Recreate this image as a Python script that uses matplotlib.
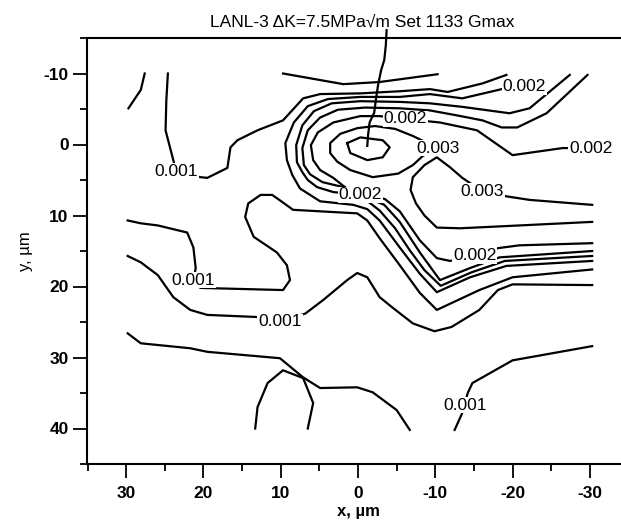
import matplotlib
matplotlib.use('Agg')
import matplotlib.pyplot as plt
from matplotlib.ticker import MultipleLocator

plt.rcParams['font.family'] = ['Liberation Sans', 'DejaVu Sans']
plt.rcParams['axes.unicode_minus'] = False

# contour lines, x and y in um
topleft_x = [29.7, 28.1, 27.6]
topleft_y = [-5.1, -7.7, -10.0]

c001a_x = [24.6, 24.8, 24.9, 23.9, 23.5, 20.4, 19.5, 16.9, 16.5, 15.6, 13.0, 9.7, 7.1, 4.9, -0.3, -5.4, -9.3, -11.6, -16.1, -19.2]
c001a_y = [-10.0, -6.2, -2.0, 2.2, 3.8, 4.6, 4.7, 3.3, 0.4, -0.6, -2.0, -3.4, -6.5, -7.1, -7.2, -7.5, -7.8, -7.4, -8.6, -9.8]

top_x = [9.7, 1.9, -2.8, -10.3]
top_y = [-10.0, -8.5, -8.8, -9.9]

band1_x = [-21.5, -18.6, -13.5, -9.3, -5.4, -0.3, 3.9, 6.5, 8.3, 9.4, 9.2, 8.5, 7.5, 4.9, 0.6, -1.2, -2.8, -5.4, -8.0, -10.2, -14.5, -19.2, -30.3]
band1_y = [-8.1, -7.8, -6.5, -7.1, -6.7, -6.7, -6.4, -5.4, -3.1, -0.2, 2.2, 4.3, 6.2, 8.0, 8.5, 9.1, 10.7, 14.5, 18.2, 20.8, 18.7, 17.1, 16.4]

band2_x = [-27.4, -22.2, -19.6, -13.5, -9.3, -5.4, -0.3, 3.4, 5.7, 7.2, 8.0, 7.9, 7.2, 6.5, 5.3, 3.2, -0.3, -3.4, -5.4, -8.0, -10.6, -14.5, -18.3, -30.3]
band2_y = [-9.8, -5.1, -4.4, -5.3, -5.8, -6.0, -6.1, -5.8, -4.7, -2.7, 0.1, 2.5, 3.9, 5.0, 6.0, 6.7, 7.1, 8.5, 10.9, 15.2, 19.1, 17.4, 15.9, 15.0]

band3_x = [-29.7, -24.4, -20.6, -18.6, -16.1, -12.8, -9.3, -5.4, -0.9, 2.6, 4.9, 6.5, 7.2, 7.0, 6.2, 4.6, 2.3, -0.5, -3.5, -5.4, -8.0, -10.2, -11.9, -15.1, -18.1, -20.9, -30.3]
band3_y = [-9.8, -4.4, -2.4, -2.4, -3.4, -4.1, -4.8, -5.1, -5.2, -4.9, -3.8, -2.0, 0.5, 2.9, 4.2, 5.3, 5.9, 6.7, 7.7, 9.4, 13.5, 16.0, 16.4, 15.6, 14.6, 14.2, 13.9]

band4_x = [-0.9, -2.8, -4.8, -6.7, -8.6, -10.7, -14.7, -19.0, -30.3]
band4_y = [7.7, 9.3, 11.8, 14.9, 17.7, 19.9, 18.0, 16.4, 15.7]

ring3_x = [-30.1, -26.5, -20.0, -15.4, -10.6, -6.1, -2.8, -0.3, 3.2, 5.2, 6.1, 5.8, 4.9, 3.2, 1.7]
ring3_y = [0.5, 0.5, 1.5, -2.0, -3.1, -3.6, -4.0, -4.0, -3.1, -1.7, 0.1, 2.2, 3.6, 4.7, 6.0]

ring2_x = [-10.3, -7.1, -4.8, -2.2, 0.1, 2.3, 3.6, 3.6, 2.7, 1.0, -1.9, -5.2, -7.1, -8.4, -10.3]
ring2_y = [0.5, -1.2, -2.2, -2.6, -2.3, -1.5, -0.2, 1.2, 2.4, 3.6, 4.6, 4.1, 2.9, 1.6, 0.5]

peak_x = [1.4, -0.3, -3.2, -4.1, -3.2, -1.2, 1.0, 1.4]
peak_y = [-0.2, -1.0, -0.6, 0.4, 1.8, 2.2, 1.2, -0.2]

c003_x = [-30.3, -22.2, -19.2, -16.1, -13.5, -11.9, -10.2, -8.6, -7.1, -6.8, -7.5, -8.6, -10.2, -13.2, -20.9, -30.3]
c003_y = [8.5, 7.8, 7.3, 6.6, 4.7, 3.2, 1.8, 2.9, 4.6, 6.4, 8.3, 10.0, 11.7, 11.8, 11.4, 10.9]

tongue_x = [29.8, 28.1, 25.9, 22.1, 21.3, 21.0, 21.3, 20.4, 9.7, 8.8, 9.2, 10.5, 13.5, 14.6, 14.2, 12.6, 11.1, 9.8, 8.4, 0.1, -1.2, -2.8, -5.4, -8.0, -10.2, -15.7, -20.0, -30.3]
tongue_y = [10.7, 11.1, 11.4, 12.4, 14.5, 17.4, 19.1, 20.2, 20.5, 19.1, 17.0, 15.2, 13.0, 10.2, 8.3, 7.1, 7.1, 8.1, 9.2, 9.7, 10.7, 13.2, 17.0, 20.9, 23.3, 20.5, 18.7, 17.6]

bump_x = [29.8, 28.1, 25.9, 23.9, 21.7, 19.5, 13.0, 10.1, 6.8, 4.5, 1.4, 0.1, -1.2, -2.8, -4.5, -7.1, -9.9, -12.1, -15.7, -18.1, -20.0, -30.3]
bump_y = [15.7, 16.6, 18.4, 21.5, 23.3, 24.0, 24.3, 25.0, 23.8, 21.9, 19.1, 18.1, 18.7, 21.5, 23.0, 25.2, 26.3, 25.7, 23.3, 20.5, 19.7, 19.8]

bottom_x = [29.8, 28.1, 21.7, 19.5, 10.1, 7.1, 4.9, 0.1, -1.9, -5.0, -6.7]
bottom_y = [26.6, 28.0, 28.7, 29.2, 30.1, 32.8, 34.3, 34.2, 34.9, 37.4, 40.2]

vee_x = [13.3, 13.0, 11.7, 9.7, 7.1, 5.8, 6.5]
vee_y = [40.0, 37.0, 33.6, 31.8, 32.9, 36.4, 40.0]

lowright_x = [-30.3, -20.0, -14.8, -14.2, -13.8, -13.5, -12.5]
lowright_y = [28.4, 30.4, 33.6, 35.0, 36.7, 37.8, 40.2]

# crack path, goes past the top of the frame
crack_x = [-3.7, -3.6, -3.4, -3.0, -2.6, -2.3, -2.1, -1.5, -1.3, -1.2]
crack_y = [-16.1, -14.0, -11.9, -10.5, -8.4, -6.2, -4.5, -3.1, -1.3, 0.2]

label_txt = ['0.001', '0.001', '0.001', '0.001',
             '0.002', '0.002', '0.002', '0.002', '0.002',
             '0.003', '0.003']
label_x = [23.5, 21.3, 10.1, -13.8, -21.5, -6.1, -0.3, -15.1, -30.1, -10.3, -16.1]
label_y = [3.8, 19.1, 25.0, 36.7, -8.1, -3.6, 7.1, 15.6, 0.5, 0.5, 6.6]

lines = [(topleft_x, topleft_y), (c001a_x, c001a_y), (top_x, top_y),
         (band1_x, band1_y), (band2_x, band2_y), (band3_x, band3_y),
         (band4_x, band4_y), (ring3_x, ring3_y), (ring2_x, ring2_y),
         (peak_x, peak_y), (c003_x, c003_y), (tongue_x, tongue_y),
         (bump_x, bump_y), (bottom_x, bottom_y), (vee_x, vee_y),
         (lowright_x, lowright_y)]

fig = plt.figure(figsize=(6.21, 5.23), dpi=100)
ax = fig.add_axes([87.5 / 621, 1 - 464 / 523, 541 / 621, 426 / 523])

for xs, ys in lines:
    ax.plot(xs, ys, color='black', linewidth=1.6, zorder=2)
ax.plot(crack_x, crack_y, color='black', linewidth=1.6, clip_on=False, zorder=2)

for t, lx, ly in zip(label_txt, label_x, label_y):
    ax.text(lx, ly, t, fontsize=12.5, ha='center', va='center', zorder=3,
            bbox=dict(boxstyle='square,pad=0.05', fc='white', ec='none'))

ax.set_xlim(35, -35)
ax.set_ylim(45, -15)
ax.xaxis.set_major_locator(MultipleLocator(10))
ax.xaxis.set_minor_locator(MultipleLocator(5))
ax.yaxis.set_major_locator(MultipleLocator(10))
ax.yaxis.set_minor_locator(MultipleLocator(5))
ax.tick_params(which='major', direction='out', length=10, width=1.3, labelsize=12.5)
ax.tick_params(which='minor', direction='out', length=5, width=1.3)
ax.tick_params(axis='x', which='major', pad=6)
ax.tick_params(axis='y', which='major', pad=3.5)
ax.xaxis.set_ticks_position('bottom')
ax.yaxis.set_ticks_position('left')
for lab in ax.get_xticklabels() + ax.get_yticklabels():
    lab.set_fontweight('bold')
for s in ax.spines.values():
    s.set_linewidth(1.5)
ax.spines['right'].set_visible(False)

ax.set_xlabel('x, µm', fontsize=12, fontweight='bold', labelpad=2)
ax.set_ylabel('y, µm', fontsize=12, labelpad=8)

fig.text(362 / 621, 1 - 22 / 523, 'LANL-3 ΔK=7.5MPa√m Set 1133 Gmax',
         fontsize=12.5, ha='center', va='center')

fig.savefig('out.png', dpi=100)
